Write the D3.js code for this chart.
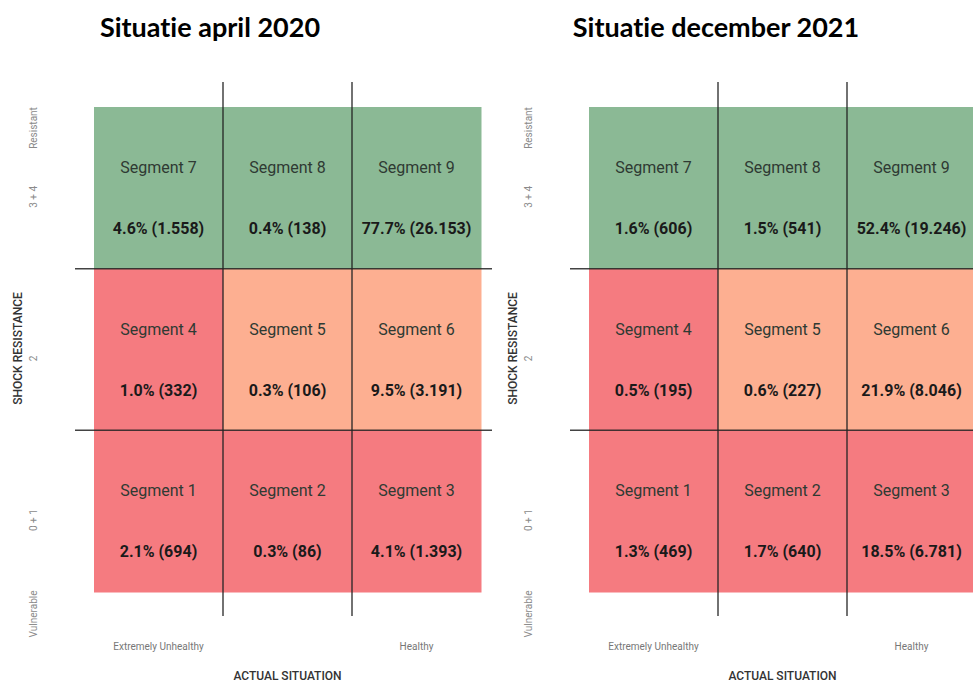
<!DOCTYPE html>
<html>
<head>
<meta charset="utf-8">
<script src="https://cdn.jsdelivr.net/npm/d3@7"></script>
<style>
  html, body { margin: 0; padding: 0; background: #fff; }
  svg { display: block; }
  text { font-variant-ligatures: none; font-feature-settings: "liga" 0; }
</style>
</head>
<body>
<svg id="chart" width="973" height="684"></svg>
<script>
'use strict';

// ── Data ─────────────────────────────────────────────────────────
const panelTitles = ['Situatie april 2020', 'Situatie december 2021'];

// grid rows top → bottom, columns left → right
const rowTicks    = ['3 + 4', '2', '0 + 1'];
const colTicks    = ['Extremely Unhealthy', '', 'Healthy'];
const segmentIds  = [7, 8, 9, 4, 5, 6, 1, 2, 3];
const segmentZone = ['good', 'good', 'good', 'bad', 'mid', 'mid', 'bad', 'bad', 'bad'];

const pct2020   = [4.6, 0.4, 77.7, 1.0, 0.3, 9.5, 2.1, 0.3, 4.1];
const count2020 = [1558, 138, 26153, 332, 106, 3191, 694, 86, 1393];

const pct2021   = [1.6, 1.5, 52.4, 0.5, 0.6, 21.9, 1.3, 1.7, 18.5];
const count2021 = [606, 541, 19246, 195, 227, 8046, 469, 640, 6781];

const ZONE_COLOR = { good: '#8bb995', mid: '#fdaf91', bad: '#f57b80' };

const GRID_W    = 387;
const GRID_H    = 485;
const GRID_TOP  = 107;
const PANEL_X   = [94, 589];
const TITLE_X   = [210, 716];

const nl = d3.formatLocale({ decimal: '.', thousands: '.', grouping: [3], currency: ['', ''] });
const fmtCount = nl.format(',d');
const fmtPct   = d => d3.format('.1f')(d) + '%';

const svg = d3.select('#chart');

[[pct2020, count2020], [pct2021, count2021]].forEach(([pcts, counts], p) => {
  const g = svg.append('g').attr('transform', `translate(${PANEL_X[p]},${GRID_TOP})`);

  const x = d3.scaleBand().domain([0, 1, 2]).range([0, GRID_W]);
  const y = d3.scaleBand().domain([0, 1, 2]).range([0, GRID_H]);

  const cells = segmentIds.map((id, i) => ({
    id, zone: segmentZone[i], pct: pcts[i], count: counts[i],
    col: i % 3, row: Math.floor(i / 3),
  }));

  // ── Cells ───────────────────────────────────────────────────
  g.selectAll('rect.cell')
    .data(cells)
    .join('rect')
      .attr('class', 'cell')
      .attr('x', d => x(d.col))
      .attr('y', d => y(d.row))
      .attr('width', x.bandwidth() + 0.5)
      .attr('height', y.bandwidth() + 0.5)
      .attr('fill', d => ZONE_COLOR[d.zone]);

  g.selectAll('text.seg')
    .data(cells)
    .join('text')
      .attr('class', 'seg')
      .attr('x', d => x(d.col) + x.bandwidth() / 2)
      .attr('y', d => y(d.row) + 66)
      .attr('text-anchor', 'middle')
      .attr('font-family', 'Roboto, sans-serif')
      .attr('font-size', 16)
      .attr('fill', '#2f3a33')
      .text(d => 'Segment ' + d.id);

  g.selectAll('text.val')
    .data(cells)
    .join('text')
      .attr('class', 'val')
      .attr('x', d => x(d.col) + x.bandwidth() / 2)
      .attr('y', d => y(d.row) + 127)
      .attr('text-anchor', 'middle')
      .attr('font-family', 'Roboto, sans-serif')
      .attr('font-weight', 'bold')
      .attr('font-size', 16)
      .attr('fill', '#1a1a1a')
      .text(d => `${fmtPct(d.pct)} (${fmtCount(d.count)})`);

  // ── Divider lines ───────────────────────────────────────────
  g.selectAll('line.vdiv')
    .data([1, 2])
    .join('line')
      .attr('class', 'vdiv')
      .attr('x1', d => x(d)).attr('x2', d => x(d))
      .attr('y1', -25).attr('y2', GRID_H + 24)
      .attr('stroke', '#222').attr('stroke-opacity', 0.85).attr('stroke-width', 1.5);

  g.selectAll('line.hdiv')
    .data([1, 2])
    .join('line')
      .attr('class', 'hdiv')
      .attr('x1', -19).attr('x2', GRID_W + 11)
      .attr('y1', d => y(d)).attr('y2', d => y(d))
      .attr('stroke', '#222').attr('stroke-opacity', 0.85).attr('stroke-width', 1.5);

  // ── Vertical axis labels ────────────────────────────────────
  const vLabel = (txt, cy, cx, opts = {}) => g.append('text')
    .attr('transform', `translate(${cx},${cy}) rotate(-90)`)
    .attr('text-anchor', 'middle')
    .attr('dy', '0.35em')
    .attr('font-family', 'Roboto, sans-serif')
    .attr('font-size', opts.size || 10)
    .attr('font-weight', opts.weight || 'normal')
    .attr('fill', opts.fill || '#8a8a8a')
    .text(txt);

  vLabel('Resistant', 21, -61);
  rowTicks.forEach((t, i) => vLabel(t, y(i) + y.bandwidth() / 2 + 9, -61));
  vLabel('Vulnerable', GRID_H + 22, -61);
  vLabel('SHOCK RESISTANCE', GRID_H / 2 - 1, -76, { size: 12, weight: 500, fill: '#333' });

  // ── Horizontal axis labels ──────────────────────────────────
  g.selectAll('text.coltick')
    .data(colTicks.map((t, i) => ({ t, i })).filter(d => d.t))
    .join('text')
      .attr('class', 'coltick')
      .attr('x', d => x(d.i) + x.bandwidth() / 2)
      .attr('y', GRID_H + 58)
      .attr('text-anchor', 'middle')
      .attr('font-family', 'Roboto, sans-serif')
      .attr('font-size', 10)
      .attr('fill', '#777')
      .text(d => d.t);

  g.append('text')
    .attr('x', GRID_W / 2)
    .attr('y', GRID_H + 88)
    .attr('text-anchor', 'middle')
    .attr('font-family', 'Roboto, sans-serif')
    .attr('font-size', 12)
    .attr('font-weight', 500)
    .attr('fill', '#333')
    .text('ACTUAL SITUATION');

  // ── Title ───────────────────────────────────────────────────
  svg.append('text')
    .attr('x', TITLE_X[p])
    .attr('y', 37)
    .attr('text-anchor', 'middle')
    .attr('font-family', 'Lato, "Open Sans", sans-serif')
    .attr('font-weight', 'bold')
    .attr('font-size', 27)
    .attr('fill', '#000')
    .text(panelTitles[p]);
});
</script>
</body>
</html>
